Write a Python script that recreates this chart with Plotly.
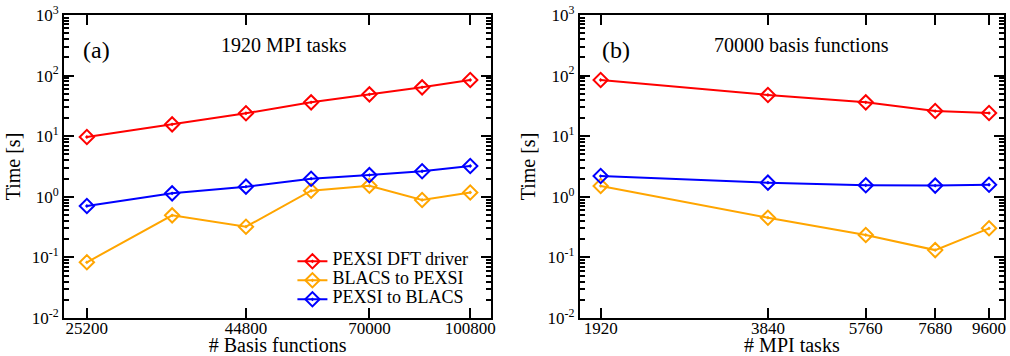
import plotly.graph_objects as go

# ---- data ----
basis = [25200, 34300, 44800, 56700, 70000, 84700, 100800]
dft_a = [9.7, 15.7, 23.9, 36.2, 49.0, 64.0, 84.6]
b2p_a = [0.083, 0.494, 0.321, 1.26, 1.52, 0.885, 1.18]
p2b_a = [0.705, 1.14, 1.47, 1.99, 2.28, 2.64, 3.22]

tasks = [1920, 3840, 5760, 7680, 9600]
dft_b = [84.6, 47.9, 36.2, 26.0, 24.1]
b2p_b = [1.51, 0.452, 0.234, 0.132, 0.302]
p2b_b = [2.20, 1.71, 1.55, 1.53, 1.58]

names = ["PEXSI DFT driver", "BLACS to PEXSI", "PEXSI to BLACS"]
colors = ["#FF0000", "#FFA500", "#0000FF"]

basis_ticks = [25200, 44800, 70000, 100800]
task_ticks = [1920, 3840, 5760, 7680, 9600]
y_ticks = [1e-2, 1e-1, 1e0, 1e1, 1e2, 1e3]
y_ticktext = ["10<sup>-2</sup>", "10<sup>-1</sup>", "10<sup>0</sup>",
              "10<sup>1</sup>", "10<sup>2</sup>", "10<sup>3</sup>"]

FONT = "Liberation Serif, Times New Roman, serif"

fig = go.Figure()

for ys, nm, c in zip([dft_a, b2p_a, p2b_a], names, colors):
    fig.add_trace(go.Scatter(
        x=basis, y=ys, name='<span style="font-size:18px">' + nm + '</span>',
        mode="lines+markers",
        line=dict(color=c, width=2),
        marker=dict(symbol="diamond-open-dot", size=11, color=c, line=dict(width=2, color=c)),
        xaxis="x", yaxis="y", showlegend=True))

for ys, nm, c in zip([dft_b, b2p_b, p2b_b], names, colors):
    fig.add_trace(go.Scatter(
        x=tasks, y=ys, name=nm, mode="lines+markers",
        line=dict(color=c, width=2),
        marker=dict(symbol="diamond-open-dot", size=11, color=c, line=dict(width=2, color=c)),
        xaxis="x2", yaxis="y2", showlegend=False))

minor_vals = [m * 10 ** e for e in range(-2, 3) for m in range(2, 10)]

def yaxis(anchor):
    return dict(
        type="log", range=[-2, 3], anchor=anchor,
        tickmode="array", tickvals=y_ticks, ticktext=y_ticktext,
        ticks="inside", ticklen=10, tickwidth=2, tickcolor="black",
        minor=dict(tickmode="array", tickvals=minor_vals, ticks="inside", ticklen=5,
                   tickwidth=1.5, tickcolor="black", showgrid=False),
        showline=True, linecolor="black", linewidth=2, mirror="ticks",
        showgrid=False, zeroline=False,
        tickfont=dict(family=FONT, size=17, color="black"),
        title=dict(text="Time [s]", font=dict(family=FONT, size=20, color="black"), standoff=6),
    )

def xaxis(domain, anchor, rng, tv, title):
    return dict(
        type="log", domain=domain, anchor=anchor, range=rng,
        tickmode="array", tickvals=tv, ticktext=[str(v) for v in tv],
        ticks="inside", ticklen=10, tickwidth=2, tickcolor="black",
        showline=True, linecolor="black", linewidth=2, mirror="ticks",
        showgrid=False, zeroline=False, ticklabelstandoff=-6,
        tickfont=dict(family=FONT, size=17, color="black"),
        title=dict(text=title, font=dict(family=FONT, size=20, color="black"), standoff=2),
    )

fig.update_layout(
    width=1010, height=356,
    margin=dict(l=64, r=2, t=15, b=38),
    plot_bgcolor="white", paper_bgcolor="white",
    font=dict(family=FONT, color="black"),
    xaxis=xaxis([0, 0.4544], "y", [4.3655, 5.0363], basis_ticks, "# Basis functions"),
    yaxis=yaxis("x"),
    xaxis2=xaxis([0.5487, 1.0], "y2", [3.2457, 4.0092], task_ticks, "# MPI tasks"),
    yaxis2=yaxis("x2"),
    legend=dict(x=0.243, y=0.235, xanchor="left", yanchor="top",
                bgcolor="rgba(0,0,0,0)", borderwidth=0,
                font=dict(family=FONT, size=10, color="black"),
                tracegroupgap=0, itemwidth=30),
    showlegend=True,
)

ann_font = dict(family=FONT, color="black")
fig.add_annotation(text="(a)", xref="x domain", yref="y domain", x=0.077, y=0.885,
                   xanchor="center", yanchor="middle",
                   showarrow=False, font=dict(size=24, **ann_font))
fig.add_annotation(text="1920 MPI tasks", xref="x domain", yref="y domain", x=0.515, y=0.90,
                   xanchor="center", yanchor="middle",
                   showarrow=False, font=dict(size=20, **ann_font))
fig.add_annotation(text="(b)", xref="x2 domain", yref="y2 domain", x=0.0845, y=0.885,
                   xanchor="center", yanchor="middle",
                   showarrow=False, font=dict(size=24, **ann_font))
fig.add_annotation(text="70000 basis functions", xref="x2 domain", yref="y2 domain", x=0.523, y=0.90,
                   xanchor="center", yanchor="middle",
                   showarrow=False, font=dict(size=20, **ann_font))

fig.write_html("out.html", config={"displayModeBar": False},
               post_script="document.body.style.margin='0px';document.body.style.overflow='hidden';")
